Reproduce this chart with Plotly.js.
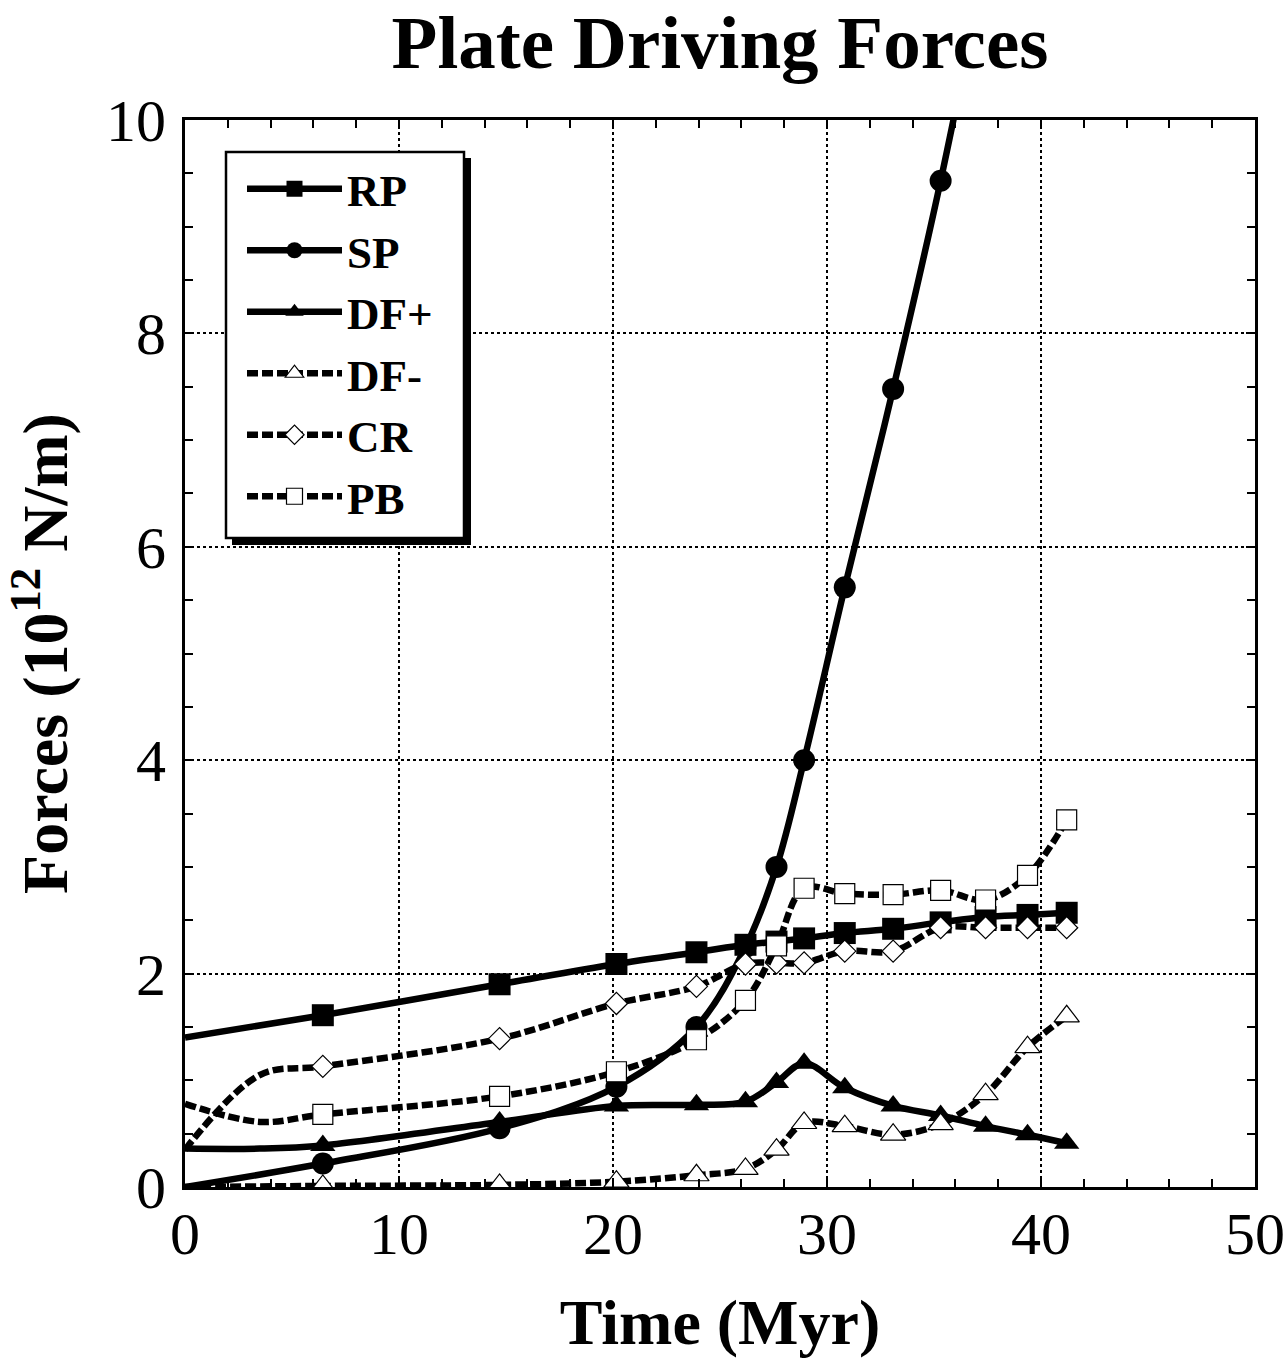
<!DOCTYPE html>
<html>
<head>
<meta charset="utf-8">
<script src="https://cdn.plot.ly/plotly-3.0.1.min.js"></script>
<style>
  html, body { margin: 0; padding: 0; background: #fff; }
  #chart { width: 1287px; height: 1366px; }
</style>
</head>
<body>
<div id="chart"></div>
<script>
// Time axis (Myr) and force histories (10^12 N/m)
const rpTime = [0, 6.44, 14.70, 20.16, 23.90, 26.19, 27.64, 28.93, 30.83, 33.09, 35.31, 37.41, 39.37, 41.20];
const rpForce = [1.40, 1.61, 1.90, 2.09, 2.20, 2.27, 2.30, 2.33, 2.38, 2.42, 2.48, 2.53, 2.55, 2.57];

const spTime = [0, 6.44, 14.70, 20.16, 23.90, 26.19, 27.64, 28.93, 30.83, 33.09, 35.31, 37.41];
const spForce = [0, 0.22, 0.55, 0.94, 1.50, 2.25, 3.00, 4.00, 5.62, 7.48, 9.43, 11.5];

const dfPlusTime = [0, 3.5, 6.44, 14.70, 20.16, 23.90, 26.19, 27.64, 28.93, 30.83, 33.09, 35.31, 37.41, 39.37, 41.20];
const dfPlusForce = [0.36, 0.36, 0.39, 0.61, 0.76, 0.77, 0.80, 0.98, 1.16, 0.93, 0.76, 0.67, 0.57, 0.49, 0.41];

const dfMinusTime = [0, 6.44, 14.70, 20.16, 23.90, 26.19, 27.64, 28.93, 30.83, 33.09, 35.31, 37.41, 39.37, 41.20];
const dfMinusForce = [0, 0.01, 0.02, 0.05, 0.11, 0.17, 0.35, 0.60, 0.57, 0.49, 0.59, 0.87, 1.31, 1.60];

const crTime = [0, 3.5, 6.44, 14.70, 20.16, 23.90, 26.19, 27.64, 28.93, 30.83, 33.09, 35.31, 37.41, 39.37, 41.20];
const crForce = [0.35, 1.05, 1.13, 1.39, 1.72, 1.88, 2.09, 2.10, 2.10, 2.21, 2.21, 2.43, 2.43, 2.43, 2.43];

const pbTime = [0, 3.5, 6.44, 14.70, 20.16, 23.90, 26.19, 27.64, 28.93, 30.83, 33.09, 35.31, 37.41, 39.37, 41.20];
const pbForce = [0.78, 0.61, 0.68, 0.85, 1.08, 1.38, 1.75, 2.26, 2.80, 2.75, 2.74, 2.78, 2.69, 2.92, 3.44];

const xTicks = [0, 10, 20, 30, 40, 50];
const yTicks = [0, 2, 4, 6, 8, 10];

const SERIF = 'Liberation Serif, Times New Roman, serif';
const DASH = '11px,4px';

// the leading anchor points of each curve carry no symbol
const sizesFor = (xs, s) => xs.map(x => (x < 5 ? 0 : s));

function series(name, xs, ys, symbol, size, filled, dash) {
  return {
    type: 'scatter',
    mode: 'lines+markers',
    name: name,
    x: xs,
    y: ys,
    line: { color: '#000', width: 6.5, shape: 'spline', smoothing: 1, dash: dash ? DASH : 'solid' },
    marker: {
      symbol: symbol,
      size: sizesFor(xs, size),
      opacity: 1,
      color: filled ? '#000' : '#fff',
      line: { color: '#000', width: filled ? 0 : 1.2 }
    }
  };
}

const data = [
  series('RP', rpTime, rpForce, 'square', 22, true, false),
  series('SP', spTime, spForce, 'circle', 22, true, false),
  series('DF+', dfPlusTime, dfPlusForce, 'triangle-up', 22, true, false),
  series('DF-', dfMinusTime, dfMinusForce, 'triangle-up', 22, false, true),
  series('CR', crTime, crForce, 'diamond', 17, false, true),
  series('PB', pbTime, pbForce, 'square', 20, false, true)
];

// plot-area geometry in pixels, used to place the legend frame and its drop shadow
const W = 1287, H = 1366;
const M = { l: 185, r: 32, t: 120, b: 179 };
const pw = W - M.l - M.r, ph = H - M.t - M.b;
const px = v => (v - M.l) / pw;
const py = v => (H - M.b - v) / ph;

const axisCommon = {
  showline: true,
  linecolor: '#000',
  linewidth: 3,
  mirror: 'allticks',
  ticks: 'inside',
  ticklen: 9,
  tickwidth: 2,
  tickcolor: '#000',
  showgrid: true,
  gridcolor: '#000',
  gridwidth: 2,
  griddash: 'dot',
  zeroline: false,
  tickfont: { family: SERIF, size: 60, color: '#000' },
  automargin: false
};

const layout = {
  width: W,
  height: H,
  margin: M,
  paper_bgcolor: '#fff',
  plot_bgcolor: '#fff',
  showlegend: true,
  title: {
    text: 'Plate Driving Forces',
    font: { family: SERIF, size: 75, color: '#000', weight: 'bold' },
    x: 0.5,
    xref: 'paper',
    y: 0.989,
    yref: 'container',
    yanchor: 'top'
  },
  xaxis: Object.assign({}, axisCommon, {
    range: [0, 50],
    tickvals: xTicks,
    ticktext: xTicks.map(String),
    ticklabelstandoff: -8,
    minor: { dtick: 2, ticks: 'inside', ticklen: 8, tickwidth: 2, tickcolor: '#000', showgrid: false },
    title: { text: 'Time (Myr)', font: { family: SERIF, size: 64, color: '#000', weight: 'bold' }, standoff: 34 }
  }),
  yaxis: Object.assign({}, axisCommon, {
    range: [0, 10],
    tickvals: yTicks,
    ticktext: yTicks.map(String),
    ticklabelstandoff: 4,
    minor: { dtick: 0.5, ticks: 'inside', ticklen: 8, tickwidth: 2, tickcolor: '#000', showgrid: false },
    title: { text: 'Forces (10<sup>12</sup> N/m)', font: { family: SERIF, size: 64, color: '#000', weight: 'bold' }, standoff: 22 }
  }),
  legend: {
    x: px(242),
    y: py(153),
    xanchor: 'left',
    yanchor: 'top',
    bgcolor: 'rgba(0,0,0,0)',
    borderwidth: 0,
    itemwidth: 95,
    tracegroupgap: 0,
    font: { family: SERIF, size: 45, color: '#000', weight: 'bold' }
  },
  shapes: [
    // drop shadow, then the white legend frame on top of it
    {
      type: 'rect', xref: 'paper', yref: 'paper', layer: 'above',
      x0: px(232), x1: px(471), y0: py(158), y1: py(545),
      fillcolor: '#000', line: { width: 0 }
    },
    {
      type: 'rect', xref: 'paper', yref: 'paper', layer: 'above',
      x0: px(226), x1: px(464), y0: py(152), y1: py(538),
      fillcolor: '#fff', line: { color: '#000', width: 2.5 }
    }
  ]
};

Plotly.newPlot('chart', data, layout, { staticPlot: true, displayModeBar: false });
</script>
</body>
</html>
